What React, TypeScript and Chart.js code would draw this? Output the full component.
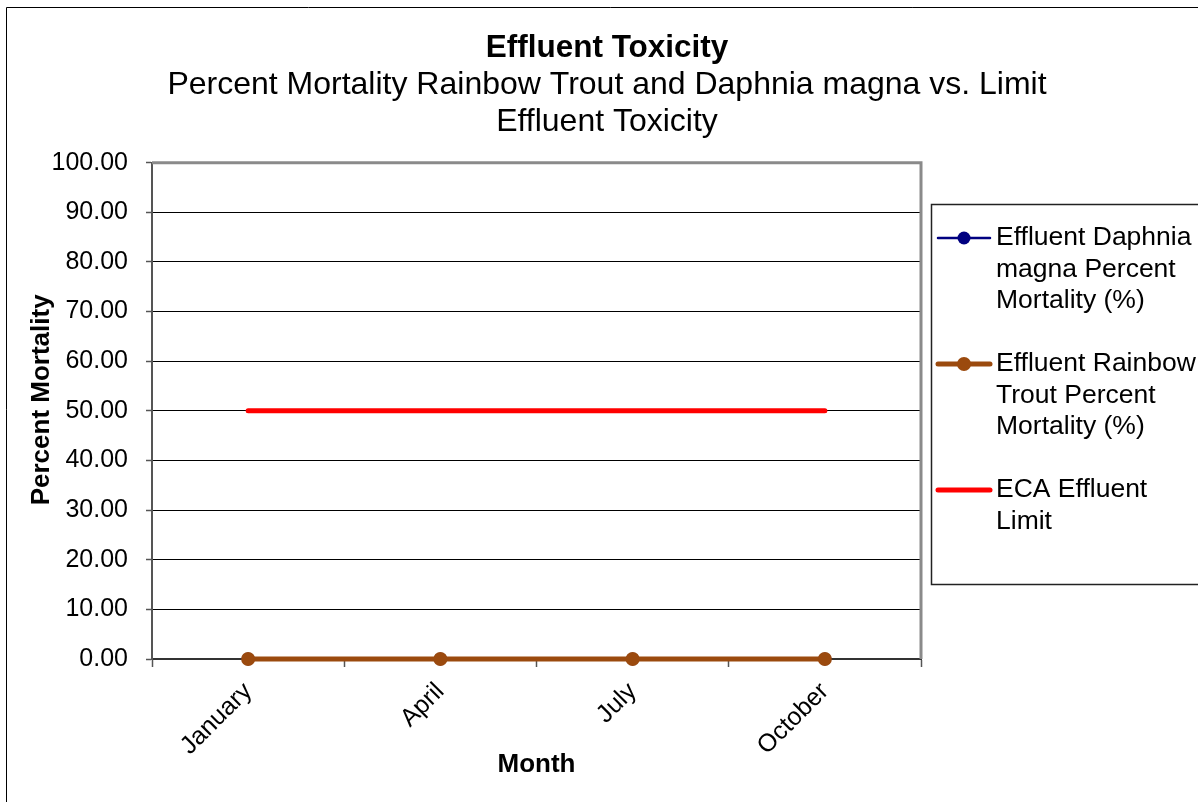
import React, { useEffect, useRef } from "react";
import { Chart, registerables } from "chart.js";

Chart.register(...registerables);

// ---- data ----
const months = ["January", "April", "July", "October"];
const daphniaMortality = [0, 0, 0, 0];
const troutMortality = [0, 0, 0, 0];
const ecaLimit = [50, 50, 50, 50];
const yMin = 0;
const yMax = 100;
const yStep = 10;
const titleText = "Effluent Toxicity";
const subtitleLines = [
  "Percent Mortality Rainbow Trout and Daphnia magna vs. Limit",
  "Effluent Toxicity",
];
const seriesLabels = [
  "Effluent Daphnia magna Percent Mortality (%)",
  "Effluent Rainbow Trout Percent Mortality (%)",
  "ECA Effluent Limit",
];
const xTitle = "Month";
const yTitle = "Percent Mortality";

// ---- layout / style ----
const W = 1214;
const H = 810;
const FONT = "'Liberation Sans', Arial, Helvetica, sans-serif";
const PLOT_LEFT = 152;
const PLOT_RIGHT = 921;
const PLOT_BOTTOM = 659;

function wrapText(ctx: CanvasRenderingContext2D, text: string, maxW: number): string[] {
  const words = text.split(" ");
  const lines: string[] = [];
  let cur = "";
  for (const w of words) {
    const t = cur ? cur + " " + w : w;
    if (cur && ctx.measureText(t).width > maxW) {
      lines.push(cur);
      cur = w;
    } else cur = t;
  }
  if (cur) lines.push(cur);
  return lines;
}

const framePlugin = {
  id: "framePlugin",
  beforeDraw(chart: any) {
    const ctx = chart.ctx;
    ctx.save();
    ctx.fillStyle = "#fff";
    ctx.fillRect(0, 0, chart.width, chart.height);
    ctx.lineWidth = 1;
    ctx.strokeStyle = "#000";
    ctx.beginPath();
    ctx.moveTo(6.5, chart.height + 5);
    ctx.lineTo(6.5, 7.5);
    ctx.lineTo(chart.width + 5, 7.5);
    ctx.stroke();
    ctx.restore();
  },
  beforeDatasetsDraw(chart: any) {
    const { ctx, chartArea: a } = chart;
    ctx.save();
    ctx.strokeStyle = "#8a8a8a";
    ctx.lineWidth = 3;
    ctx.beginPath();
    ctx.moveTo(a.left, a.top);
    ctx.lineTo(a.right, a.top);
    ctx.lineTo(a.right, a.bottom);
    ctx.stroke();
    ctx.restore();
  },
  afterDraw(chart: any) {
    // y axis title, centred slightly above the plot middle as in the reference
    const ctx = chart.ctx;
    const a = chart.chartArea;
    ctx.save();
    ctx.translate(42, (a.top + a.bottom) / 2 - 11);
    ctx.rotate(-Math.PI / 2);
    ctx.font = `bold 26px ${FONT}`;
    ctx.fillStyle = "#000";
    ctx.textAlign = "center";
    ctx.textBaseline = "middle";
    ctx.fillText(yTitle, 0, 0);
    ctx.restore();
  },
};

const boxLegendPlugin = {
  id: "boxLegendPlugin",
  afterDraw(chart: any) {
    const ctx = chart.ctx;
    const a = chart.chartArea;
    const left = a.right + 10;
    const top = 204;
    const bottom = 584;
    const right = chart.width + 5;
    ctx.save();
    ctx.strokeStyle = "#222";
    ctx.lineWidth = 1.5;
    ctx.strokeRect(left + 0.5, top + 0.5, right - left, bottom - top);
    ctx.font = `26.5px ${FONT}`;
    ctx.textBaseline = "middle";
    ctx.textAlign = "left";
    const lh = 31.5;
    let y = 238;
    const sx0 = left + 7;
    const sx1 = left + 59;
    const tx = left + 65;
    chart.data.datasets.forEach((ds: any) => {
      const lines = wrapText(ctx, ds.label, 210);
      ctx.strokeStyle = ds.borderColor;
      ctx.lineWidth = ds.borderWidth;
      ctx.lineCap = "round";
      ctx.beginPath();
      ctx.moveTo(sx0, y);
      ctx.lineTo(sx1, y);
      ctx.stroke();
      if (ds.pointRadius > 0) {
        ctx.fillStyle = ds.pointBackgroundColor;
        ctx.beginPath();
        ctx.arc((sx0 + sx1) / 2, y, ds.pointRadius, 0, Math.PI * 2);
        ctx.fill();
      }
      ctx.fillStyle = "#000";
      lines.forEach((ln, i) => ctx.fillText(ln, tx, y + i * lh));
      y += (lines.length + 1) * lh;
    });
    ctx.restore();
  },
};

export default function App() {
  const ref = useRef<HTMLCanvasElement | null>(null);

  useEffect(() => {
    if (!ref.current) return;
    Chart.defaults.font.family = FONT;
    Chart.defaults.color = "#000";
    const chart = new Chart(ref.current, {
      type: "line",
      data: {
        labels: months,
        datasets: [
          {
            label: seriesLabels[0],
            data: daphniaMortality,
            borderColor: "#000080",
            backgroundColor: "#000080",
            pointBackgroundColor: "#000080",
            pointBorderColor: "#000080",
            borderWidth: 2.5,
            pointRadius: 6.5,
            pointBorderWidth: 0,
            order: 2,
            clip: false,
          } as any,
          {
            label: seriesLabels[1],
            data: troutMortality,
            borderColor: "#9b4a0e",
            backgroundColor: "#9b4a0e",
            pointBackgroundColor: "#9b4a0e",
            pointBorderColor: "#9b4a0e",
            borderWidth: 5,
            pointRadius: 7,
            pointBorderWidth: 0,
            order: 1,
            clip: false,
          } as any,
          {
            label: seriesLabels[2],
            data: ecaLimit,
            borderColor: "#ff0000",
            backgroundColor: "#ff0000",
            pointBackgroundColor: "#ff0000",
            borderWidth: 5,
            borderCapStyle: "round",
            pointRadius: 0,
            order: 0,
            clip: false,
          } as any,
        ],
      },
      options: {
        animation: false,
        responsive: false,
        devicePixelRatio: 1,
        layout: { padding: 0 },
        plugins: {
          legend: { display: false },
          tooltip: { enabled: false },
          title: {
            display: true,
            text: titleText,
            color: "#000",
            font: { size: 31.5, weight: "bold", family: FONT, lineHeight: 1.18 },
            padding: { top: 29.5, bottom: 0 },
          },
          subtitle: {
            display: true,
            text: subtitleLines,
            color: "#000",
            font: { size: 32, weight: "normal", family: FONT, lineHeight: 1.156 },
            padding: { top: 0, bottom: 22 },
          },
        },
        scales: {
          x: {
            type: "category",
            offset: true,
            grid: {
              display: true,
              drawOnChartArea: false,
              drawTicks: true,
              tickLength: 8,
              offset: true,
              color: "#555",
              tickColor: "#555",
              tickWidth: 1.5,
            },
            border: { display: true, color: "#333", width: 2 },
            ticks: {
              color: "#000",
              font: { size: 25, family: FONT },
              minRotation: 45,
              maxRotation: 45,
              padding: 10,
              autoSkip: false,
            },
            title: {
              display: true,
              text: xTitle,
              color: "#000",
              font: { size: 26, weight: "bold", family: FONT, lineHeight: 1.2 },
              padding: { top: 4, bottom: 30 },
            },
            afterFit(scale: any) {
              scale.height = H - PLOT_BOTTOM;
            },
          },
          y: {
            type: "linear",
            position: "left",
            min: yMin,
            max: yMax,
            grid: {
              color: "#000",
              lineWidth: 1,
              borderDash: [2, 1],
              tickBorderDash: [],
              tickColor: "#555",
              tickLength: 6,
              tickWidth: 1.5,
              drawTicks: true,
            } as any,
            border: { display: true, color: "#555", width: 2 },
            ticks: {
              stepSize: yStep,
              color: "#000",
              font: { size: 25, family: FONT },
              padding: 18,
              callback: (v: any) => Number(v).toFixed(2),
            },
            title: { display: false },
            afterFit(scale: any) {
              scale.width = PLOT_LEFT;
            },
          },
          yRight: {
            type: "linear",
            position: "right",
            display: true,
            min: 0,
            max: 1,
            grid: { display: false, drawTicks: false },
            border: { display: false },
            ticks: { display: false },
            afterFit(scale: any) {
              scale.width = W - PLOT_RIGHT;
            },
          },
        },
      } as any,
      plugins: [framePlugin, boxLegendPlugin],
    });
    return () => chart.destroy();
  }, []);

  return (
    <div
      style={{
        position: "fixed",
        left: 0,
        top: 0,
        width: 1198,
        height: 802,
        overflow: "hidden",
        background: "#fff",
      }}
    >
      <canvas ref={ref} width={W} height={H} style={{ display: "block" }} />
    </div>
  );
}
